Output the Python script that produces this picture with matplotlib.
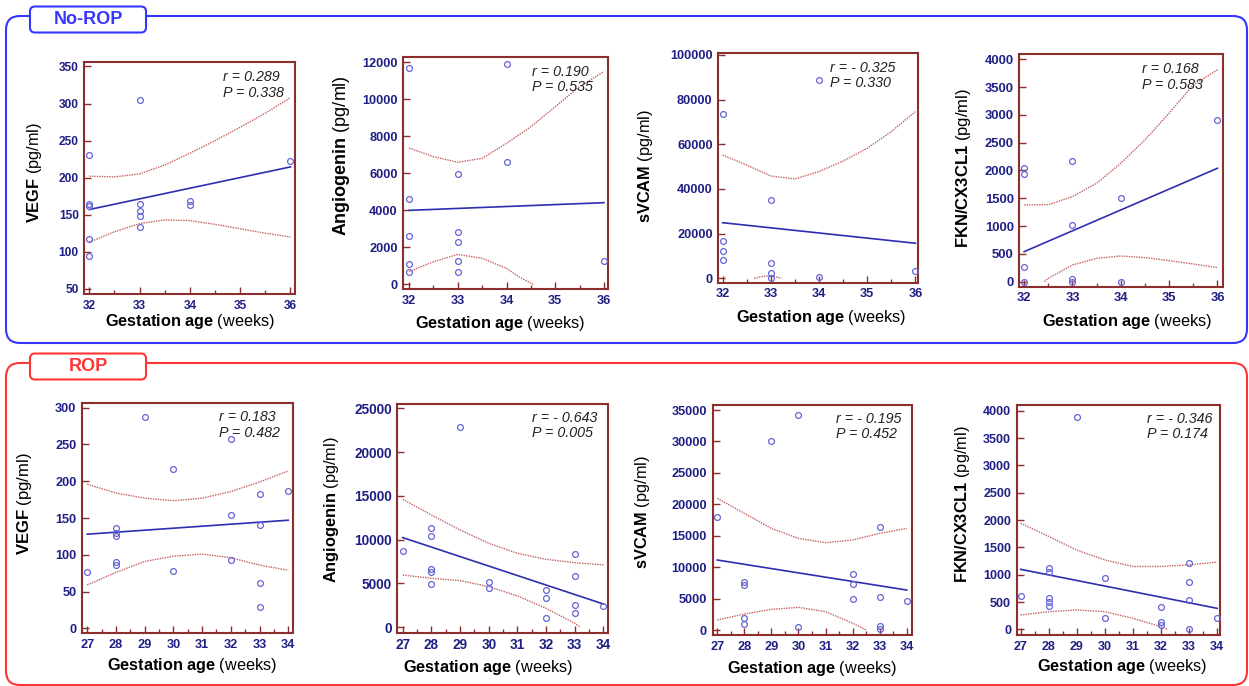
import matplotlib.pyplot as plt
from matplotlib.patches import FancyBboxPatch
from matplotlib.ticker import MultipleLocator

plt.rcParams["font.family"] = ["Liberation Sans", "DejaVu Sans"]
plt.rcParams["mathtext.fontset"] = "custom"
plt.rcParams["mathtext.rm"] = "Liberation Sans"
plt.rcParams["mathtext.bf"] = "Liberation Sans:bold"
plt.rcParams["mathtext.it"] = "Liberation Sans:italic"

# -------------------------
# Data
# -------------------------
norop_band_x = [32, 32.5, 33, 33.5, 34, 34.5, 35, 35.5, 36]
rop_band_x = [27, 28, 29, 30, 31, 32, 33, 34]

# No-ROP: VEGF
norop_vegf_age = [32, 32, 32, 32, 32, 33, 33, 33, 33, 33, 34, 34, 36]
norop_vegf = [231, 165, 162, 117, 94, 305, 165, 155, 148, 134, 168, 163, 223]
norop_vegf_fit = [157, 214.5]
norop_vegf_up = [202, 201, 205, 217, 233, 250, 268, 287, 308]
norop_vegf_lo_x = norop_band_x
norop_vegf_lo = [113, 127, 138, 143, 142, 137, 131, 125, 120]

# No-ROP: Angiogenin
norop_ang_age = [32, 32, 32, 32, 32, 33, 33, 33, 33, 33, 34, 34, 36]
norop_ang = [11700, 4600, 2600, 1080, 670, 5980, 2810, 2270, 1280, 670, 11890, 6600, 1260]
norop_ang_fit = [4000, 4415]
norop_ang_up = [7370, 6900, 6600, 6810, 7620, 8520, 9600, 10690, 11500]
norop_ang_lo_x = [32, 32.5, 33, 33.5, 34, 34.25, 34.55]
norop_ang_lo = [690, 1225, 1620, 1405, 865, 415, 0]

# No-ROP: sVCAM
norop_svcam_age = [32, 32, 32, 32, 33, 33, 33, 33, 34, 34, 36]
norop_svcam = [73600, 16900, 12200, 8400, 35100, 6900, 2200, 300, 88700, 450, 3300]
norop_svcam_fit = [24900, 15700]
norop_svcam_up = [55200, 50700, 45800, 44500, 47800, 52500, 58200, 65700, 74600]
norop_svcam_lo_x = [32.65, 32.78, 32.91, 33.05, 33.22]
norop_svcam_lo = [0, 600, 1050, 900, 0]

# No-ROP: FKN/CX3CL1
norop_fkn_age = [32, 32, 32, 32, 33, 33, 33, 33, 34, 34, 36]
norop_fkn = [2040, 1930, 270, 0, 2165, 1020, 40, 0, 1505, 0, 2910]
norop_fkn_fit = [540, 2040]
norop_fkn_up = [1380, 1385, 1530, 1770, 2130, 2550, 3030, 3540, 3810]
norop_fkn_lo_x = [32.42, 32.5, 33, 33.5, 34, 34.5, 35, 35.5, 36]
norop_fkn_lo = [0, 60, 300, 420, 462, 432, 378, 318, 252]

# ROP: VEGF
rop_vegf_age = [27, 28, 28, 28, 28, 28, 29, 30, 30, 32, 32, 32, 33, 33, 33, 33, 34]
rop_vegf = [76, 136, 129, 126, 90, 86, 287, 216, 78, 258, 154, 93, 182, 140, 61, 29, 187]
rop_vegf_fit = [128, 147]
rop_vegf_up = [196, 184, 177, 173.5, 177, 186, 199, 214]
rop_vegf_lo_x = rop_band_x
rop_vegf_lo = [59, 76, 91, 98, 101, 96, 86, 79]

# ROP: Angiogenin
rop_ang_age = [27, 28, 28, 28, 28, 28, 29, 30, 30, 32, 32, 32, 33, 33, 33, 33, 34]
rop_ang = [8710, 11380, 10460, 6660, 6280, 4910, 22830, 5180, 4450, 4260, 3350, 1100,
           8410, 5820, 2510, 1670, 2470]
rop_ang_fit = [10240, 2660]
rop_ang_up = [14610, 12820, 11110, 9590, 8450, 7760, 7380, 7120]
rop_ang_lo_x = [27, 28, 29, 30, 31, 32, 33, 33.2]
rop_ang_lo = [5970, 5590, 5330, 4640, 3580, 2170, 460, 0]

# ROP: sVCAM
rop_svcam_age = [27, 28, 28, 28, 28, 29, 30, 30, 32, 32, 32, 33, 33, 33, 33, 34]
rop_svcam = [17980, 7580, 7210, 1910, 900, 30020, 34150, 530, 8910, 7320, 4880,
             16330, 5200, 640, 210, 4670]
rop_svcam_fit = [11140, 6360]
rop_svcam_up = [20950, 18560, 16170, 14580, 13890, 14320, 15380, 16170]
rop_svcam_lo_x = [27, 28, 29, 30, 31, 32, 32.5]
rop_svcam_lo = [1590, 2550, 3290, 3610, 2920, 1100, 0]

# ROP: FKN/CX3CL1
rop_fkn_age = [27, 28, 28, 28, 28, 28, 29, 30, 30, 32, 32, 32, 33, 33, 33, 33, 34]
rop_fkn = [604, 1127, 1043, 573, 494, 421, 3890, 939, 207, 415, 128, 79, 1213, 860, 530, 0, 207]
rop_fkn_fit = [1098, 384]
rop_fkn_up = [1940, 1700, 1450, 1270, 1150, 1150, 1180, 1230]
rop_fkn_lo_x = [27, 28, 29, 30, 31, 32, 32.25]
rop_fkn_lo = [262, 323, 354, 323, 201, 49, 0]

stats = [("0.289", "0.338"), ("0.190", "0.535"), ("- 0.325", "0.330"), ("0.168", "0.583"),
         ("0.183", "0.482"), ("- 0.643", "0.005"), ("- 0.195", "0.452"), ("- 0.346", "0.174")]
markers = ["VEGF", "Angiogenin", "sVCAM", "FKN/CX3CL1"]

# colours
BLUE_BOX = "#3535ff"
RED_BOX = "#ff3535"
SPINE = "#8c2e2e"
TICKLAB = "#1f1f85"
PTS = "#6565d5"
FIT = "#2e2eb0"
BAND = "#c46060"

fig = plt.figure(figsize=(12.49, 6.86), dpi=100)

# background frames (pixel coordinates)
bg = fig.add_axes([0, 0, 1, 1], zorder=-1)
bg.set_xlim(0, 1249)
bg.set_ylim(686, 0)
bg.axis("off")
for y0, y1, col, name in [(16, 343, BLUE_BOX, "No-ROP"), (363, 685, RED_BOX, "ROP")]:
    bg.add_patch(FancyBboxPatch((6, y0), 1241, y1 - y0,
                                boxstyle="round,pad=0,rounding_size=14",
                                fc="none", ec=col, lw=1.5))
    bg.add_patch(FancyBboxPatch((30, y0 - 9.5), 116, 26,
                                boxstyle="round,pad=0,rounding_size=5",
                                fc="white", ec=col, lw=1.5, zorder=3))
    bg.text(88, y0 + 3.5, name, color=col, fontsize=13, fontweight="bold",
            ha="center", va="center", zorder=4)

panels = [
    (norop_band_x, norop_vegf_age, norop_vegf, norop_vegf_fit, norop_vegf_up, norop_vegf_lo_x, norop_vegf_lo),
    (norop_band_x, norop_ang_age, norop_ang, norop_ang_fit, norop_ang_up, norop_ang_lo_x, norop_ang_lo),
    (norop_band_x, norop_svcam_age, norop_svcam, norop_svcam_fit, norop_svcam_up, norop_svcam_lo_x, norop_svcam_lo),
    (norop_band_x, norop_fkn_age, norop_fkn, norop_fkn_fit, norop_fkn_up, norop_fkn_lo_x, norop_fkn_lo),
    (rop_band_x, rop_vegf_age, rop_vegf, rop_vegf_fit, rop_vegf_up, rop_vegf_lo_x, rop_vegf_lo),
    (rop_band_x, rop_ang_age, rop_ang, rop_ang_fit, rop_ang_up, rop_ang_lo_x, rop_ang_lo),
    (rop_band_x, rop_svcam_age, rop_svcam, rop_svcam_fit, rop_svcam_up, rop_svcam_lo_x, rop_svcam_lo),
    (rop_band_x, rop_fkn_age, rop_fkn, rop_fkn_fit, rop_fkn_up, rop_fkn_lo_x, rop_fkn_lo),
]

# layout: rect, xlim, ylim, yticks, ylabel pos, xlabel pos, stats x, tick size, ylabel size
layout = [
    ([0.0675, 0.5714, 0.1687, 0.3382], (31.9, 36.09), (43, 356), (50, 350, 50), (-0.19, 0.524), (0.5, -0.118), 0.66, 8.6, 11.8),
    ([0.3229, 0.5782, 0.1641, 0.3391], (31.88, 36.09), (-270, 12303), (0, 12000, 2000), (-0.252, 0.577), (0.474, -0.146), 0.63, 9.2, 13.0),
    ([0.5751, 0.5879, 0.1601, 0.3353], (31.91, 36.06), (-1970, 101030), (0, 100000, 20000), (-0.317, 0.505), (0.515, -0.15), 0.56, 9.2, 11.8),
    ([0.8161, 0.5821, 0.1633, 0.3388], (31.90, 36.12), (-90, 4090), (0, 4000, 500), (-0.225, 0.511), (0.528, -0.15), 0.60, 9.4, 12.0),
    ([0.0657, 0.0768, 0.1692, 0.3353], (26.82, 34.18), (-6.8, 306), (0, 300, 50), (-0.226, 0.565), (0.519, -0.138), 0.65, 9.2, 12.0),
    ([0.3181, 0.0777, 0.1689, 0.3334], (26.81, 34.17), (-616, 25490), (0, 25000, 5000), (-0.268, 0.538), (0.432, -0.151), 0.637, 9.8, 11.8),
    ([0.5706, 0.0743, 0.1593, 0.3353], (26.83, 34.18), (-795, 35795), (0, 35000, 5000), (-0.307, 0.536), (0.50, -0.145), 0.62, 9.2, 11.8),
    ([0.8140, 0.0743, 0.1628, 0.3353], (26.86, 34.10), (-104, 4104), (0, 4000, 500), (-0.222, 0.567), (0.52, -0.137), 0.64, 9.0, 11.8),
]

for i, (data, lay) in enumerate(zip(panels, layout)):
    band_x, age, val, fit, up, lo_x, lo = data
    rect, xlim, ylim, ystep, ylpos, xlpos, sx, tsize, ysize = lay
    ax = fig.add_axes(rect)

    ax.plot(age, val, "o", mfc="none", mec=PTS, ms=4.2, mew=0.9, zorder=3)
    ax.plot([band_x[0], band_x[-1]], fit, color=FIT, lw=1.2)
    ax.plot(band_x, up, color=BAND, lw=1.0, ls=(0, (1, 0.8)))
    ax.plot(lo_x, lo, color=BAND, lw=1.0, ls=(0, (1, 0.8)))

    ax.set_xlim(*xlim)
    ax.set_ylim(*ylim)
    ax.set_xticks(list(range(int(band_x[0]), int(band_x[-1]) + 1)))
    ax.xaxis.set_minor_locator(MultipleLocator(0.5))
    yt = list(range(ystep[0], ystep[1] + 1, ystep[2]))
    ax.set_yticks(yt)
    ax.set_yticklabels([str(v) for v in yt])

    for s in ax.spines.values():
        s.set_color(SPINE)
        s.set_linewidth(1.5)
    ax.tick_params(which="both", direction="in", color=SPINE, width=1.0)
    ax.tick_params(which="major", length=5, labelsize=tsize, labelcolor=TICKLAB, pad=4)
    ax.tick_params(which="minor", length=3)
    for lab in ax.get_xticklabels() + ax.get_yticklabels():
        lab.set_fontweight("bold")

    ax.set_ylabel(r"$\mathbf{" + markers[i % 4] + "}$ (pg/ml)", fontsize=ysize)
    ax.yaxis.set_label_coords(*ylpos)
    ax.set_xlabel(r"$\mathbf{Gestation\ age}$ (weeks)", fontsize=11.7, va="center")
    ax.xaxis.set_label_coords(*xlpos)

    r_txt, p_txt = stats[i]
    ty = (0.94, 0.872) if i >= 4 else (0.935, 0.868)
    ax.text(sx, ty[0], "r = " + r_txt, transform=ax.transAxes, fontsize=10.3,
            style="italic", color="#222222", va="center", ha="left")
    ax.text(sx, ty[1], "P = " + p_txt, transform=ax.transAxes, fontsize=10.3,
            style="italic", color="#222222", va="center", ha="left")

fig.savefig("out.png", dpi=100)
